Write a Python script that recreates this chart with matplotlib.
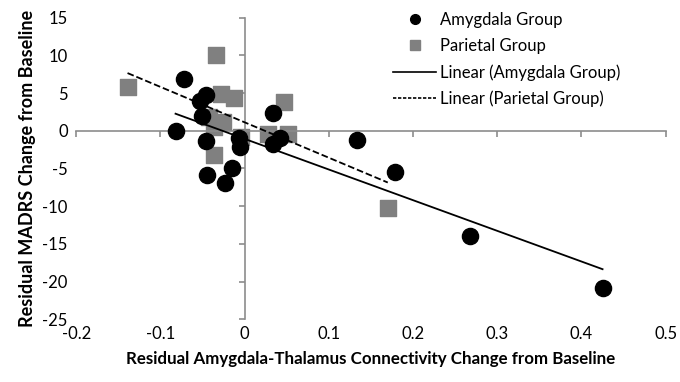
import numpy as np
import matplotlib.pyplot as plt
from matplotlib.lines import Line2D

plt.rcParams['font.family'] = ['Lato', 'DejaVu Sans']

# Amygdala group (black circles)
amy_x = [-0.072, -0.046, -0.053, -0.051, -0.082, -0.046, -0.007, -0.006,
         -0.015, -0.045, -0.023, 0.034, 0.034, 0.042, 0.134, 0.179, 0.268, 0.425]
amy_y = [6.8, 4.7, 4.0, 2.0, 0.0, -1.3, -1.0, -2.2,
         -5.0, -5.9, -6.9, 2.4, -1.8, -1.0, -1.2, -5.5, -13.9, -20.8]

# Parietal group (grey squares)
par_x = [-0.139, -0.034, -0.028, -0.012, -0.042, -0.026, -0.036, -0.004,
         0.028, 0.051, 0.047, -0.036, 0.170]
par_y = [5.8, 10.0, 4.9, 4.4, 1.8, 1.2, 0.5, -0.8,
         -0.4, -0.4, 3.8, -3.2, -10.2]

x_ticks = [-0.2, -0.1, 0, 0.1, 0.2, 0.3, 0.4, 0.5]
y_ticks = [-25, -20, -15, -10, -5, 0, 5, 10, 15]

grey = '#808080'
axis_grey = '#8c8c8c'

fig = plt.figure(figsize=(6.8, 3.82), dpi=100)
ax = fig.add_axes([0.112, 0.164, 0.867, 0.79])

ax.scatter(amy_x, amy_y, s=135, marker='o', color='black', zorder=3)
ax.scatter(par_x, par_y, s=125, marker='s', color=grey, zorder=2)

# linear trend lines, fitted over each group's own x range
for xs, ys, ls in [(amy_x, amy_y, '-'), (par_x, par_y, '--')]:
    b, a = np.polyfit(xs, ys, 1)
    xx = np.array([min(xs), max(xs)])
    ax.plot(xx, a + b * xx, color='black', lw=1.3, ls=ls, zorder=4)

ax.set_xlim(-0.2, 0.5)
ax.set_ylim(-25, 15)

# axes cross at zero, Excel style, labels stay at the edges
for s in ['top', 'right']:
    ax.spines[s].set_visible(False)
ax.spines['left'].set_position(('data', 0))
ax.spines['bottom'].set_position(('data', 0))
ax.spines['left'].set_color(axis_grey)
ax.spines['bottom'].set_color(axis_grey)
ax.spines['left'].set_linewidth(1.2)
ax.spines['bottom'].set_linewidth(1.2)
ax.set_xticks(x_ticks)
ax.set_yticks(y_ticks)
ax.tick_params(direction='out', length=4, width=1.2, color=axis_grey,
               labelleft=False, labelbottom=False)

secx = ax.secondary_xaxis('bottom')
secx.set_xticks(x_ticks)
secx.set_xticklabels(['-0.2', '-0.1', '0', '0.1', '0.2', '0.3', '0.4', '0.5'])
secx.spines['bottom'].set_visible(False)
secx.tick_params(length=0, labelsize=12, pad=5)

secy = ax.secondary_yaxis('left')
secy.set_yticks(y_ticks)
secy.set_yticklabels([str(v) for v in y_ticks])
secy.spines['left'].set_visible(False)
secy.tick_params(length=0, labelsize=12, pad=6)

secx.set_xlabel('Residual Amygdala-Thalamus Connectivity Change from Baseline',
                fontsize=12.2, fontweight='bold', labelpad=6)
secy.set_ylabel('Residual MADRS Change from Baseline',
                fontsize=13, fontweight='bold', labelpad=5)

handles = [
    Line2D([], [], marker='o', ls='none', color='black', markersize=7),
    Line2D([], [], marker='s', ls='none', color=grey, markersize=6.5),
    Line2D([], [], color='black', lw=1.2),
    Line2D([], [], color='black', lw=1.2, ls=(0, (2, 1))),
]
labels = ['Amygdala Group', 'Parietal Group',
          'Linear (Amygdala Group)', 'Linear (Parietal Group)']
fig.legend(handles, labels, loc='upper left',
           bbox_to_anchor=(393 / 680, 1 - 12 / 382), borderaxespad=0,
           borderpad=0, frameon=False, fontsize=12, handlelength=2.6,
           handletextpad=0.25, labelspacing=0.6)

fig.savefig('out.png', dpi=100)
